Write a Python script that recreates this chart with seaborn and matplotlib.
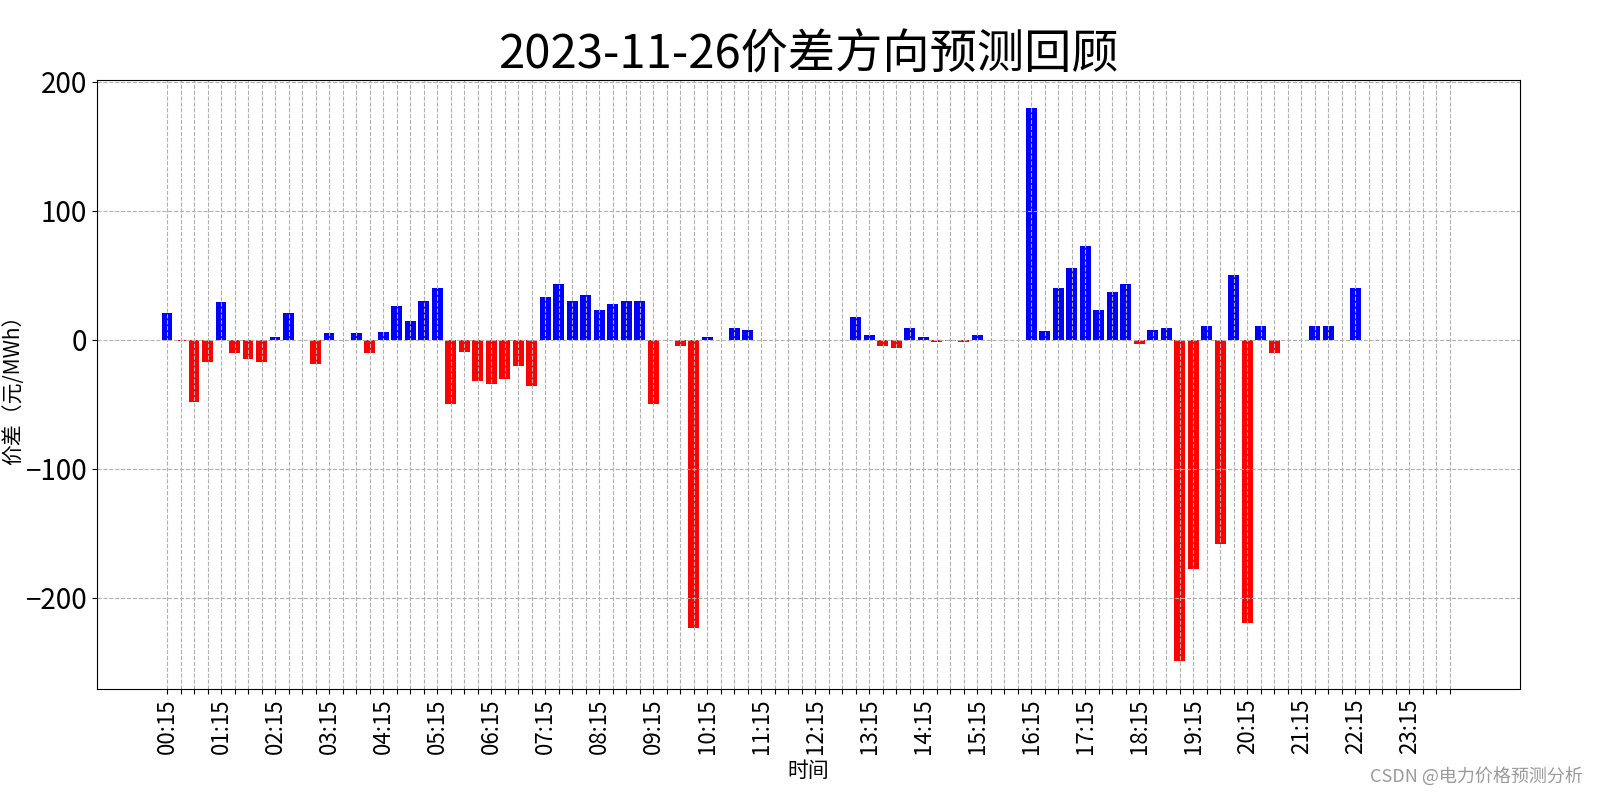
import matplotlib
matplotlib.use("Agg")
import matplotlib.pyplot as plt
import seaborn as sns
import pandas as pd

# ---- data ----
title = "2023-11-26价差方向预测回顾"
times = [f"{(15 * (i + 1)) // 60:02d}:{(15 * (i + 1)) % 60:02d}" for i in range(96)]
values = [
    21, -0.5, -48, -17.5, 29, -10, -14.5, -17.5, 2.6, 20.5, 0, -18.5,
    5, 0, 5, -10.5, 6.5, 26, 15, 30, 40, -49.5, -9, -31.5,
    -34, -30, -20, -35.5, 33, 43, 30.5, 35, 23.5, 28, 30.5, 30,
    -49.5, 0, -4.5, -223, 2, 0, 9.5, 8, 0, 0, 0, 0,
    0, 0, 0, 17.5, 3.5, -4.5, -6.5, 9, 2, -2, -0.5, -1.5,
    3.5, 0, 0, 0, 180, 7, 40, 55.5, 72.5, 23, 37.5, 43,
    -3, 8, 9.5, -249, -177.5, 10.5, -158, 50, -219.5, 10.5, -10, 0,
    0, 10.5, 10.5, 0, 40, 0, 0, 0, 0, 0, 0, 0,
]
direction = ["涨" if v >= 0 else "跌" for v in values]
palette = {"涨": "blue", "跌": "red"}
y_ticks = [-200, -100, 0, 100, 200]

plt.rcParams["font.family"] = ["Noto Sans CJK SC", "DejaVu Sans"]
plt.rcParams["axes.unicode_minus"] = True

df = pd.DataFrame({"time": times, "value": values, "dir": direction})

fig, ax = plt.subplots(figsize=(16, 8), dpi=100)
fig.subplots_adjust(left=0.0606, right=0.95, top=0.9, bottom=0.139)

sns.barplot(data=df, x="time", y="value", hue="dir", palette=palette,
            order=times, dodge=False, saturation=1, width=0.8,
            errorbar=None, legend=False, ax=ax)

# restore default matplotlib margins on the categorical axis
ax.autoscale(enable=True, axis="x")
ax.set_axisbelow("line")
ax.grid(True, linestyle="--", color="#b0b0b0", linewidth=0.8)

ax.set_xticks(range(len(times)))
ax.set_xticklabels([t if i % 4 == 0 else "" for i, t in enumerate(times)],
                   rotation=90, fontsize=16)
ax.set_yticks(y_ticks)
ax.tick_params(axis="y", labelsize=20)

ax.set_title(title, fontsize=34)
ax.set_xlabel("时间", fontsize=15)
ax.set_ylabel("价差（元/MWh）", fontsize=15, labelpad=1)

for s in ax.spines.values():
    s.set_visible(True)
    s.set_color("black")

fig.text(0.989, 0.018, "CSDN @电力价格预测分析", ha="right", va="bottom",
         fontsize=13, color="#9a9a9a")

fig.savefig("out.png", dpi=100)
